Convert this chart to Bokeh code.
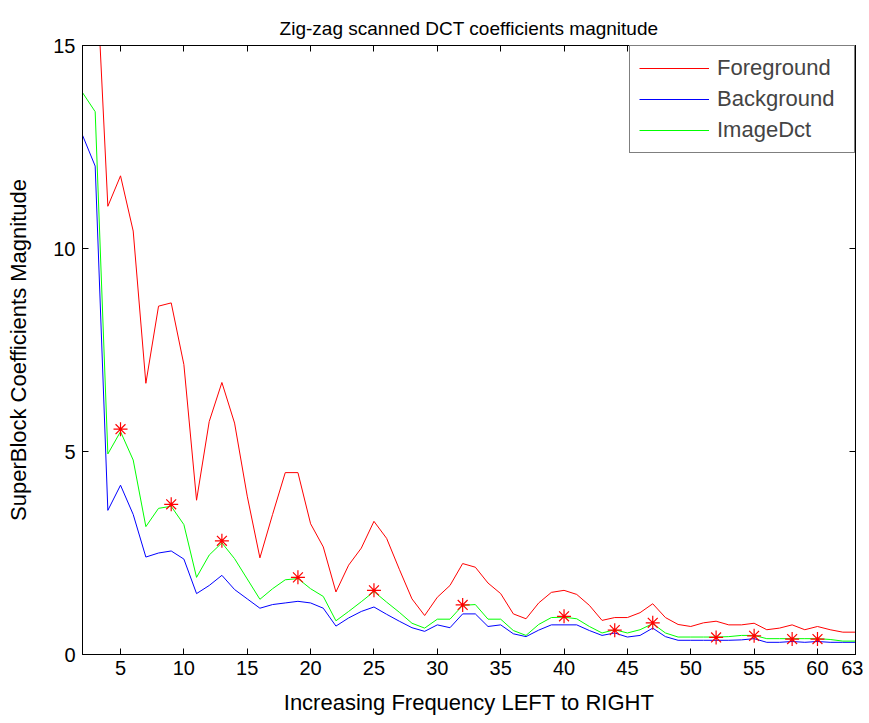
from bokeh.plotting import figure
from bokeh.models import LinearAxis, FixedTicker, Range1d, Legend, LegendItem, ColumnDataSource
from bokeh.embed import file_html
from bokeh.resources import INLINE

# zig-zag index (DC excluded)
freq = list(range(2, 64))

foreground = [18.5, 17.5, 11.04, 11.79, 10.43, 6.68, 8.58, 8.66, 7.14, 3.8,
              5.74, 6.70, 5.70, 3.9, 2.38, 3.45, 4.48, 4.48, 3.22, 2.65,
              1.54, 2.2, 2.62, 3.28, 2.86, 2.1, 1.37, 0.96, 1.41, 1.7,
              2.24, 2.15, 1.76, 1.5, 1.0, 0.88, 1.27, 1.53, 1.58, 1.48,
              1.21, 0.84, 0.91, 0.91, 1.03, 1.25, 0.91, 0.74, 0.69, 0.78,
              0.82, 0.73, 0.73, 0.77, 0.61, 0.65, 0.73, 0.61, 0.69, 0.61,
              0.55, 0.55]

background = [12.79, 12.03, 3.55, 4.17, 3.45, 2.4, 2.5, 2.55, 2.35, 1.5,
              1.7, 1.95, 1.6, 1.37, 1.14, 1.23, 1.27, 1.31, 1.27, 1.14,
              0.70, 0.9, 1.06, 1.17, 0.99, 0.82, 0.66, 0.57, 0.73, 0.66,
              1.0, 1.0, 0.69, 0.73, 0.51, 0.44, 0.6, 0.73, 0.73, 0.73,
              0.59, 0.47, 0.53, 0.43, 0.47, 0.65, 0.44, 0.35, 0.35, 0.35,
              0.35, 0.35, 0.36, 0.39, 0.30, 0.30, 0.32, 0.30, 0.32, 0.30,
              0.30, 0.30]

image_dct = [13.84, 13.37, 4.94, 5.49, 4.79, 3.15, 3.6, 3.65, 3.2, 1.9,
             2.45, 2.75, 2.36, 1.86, 1.36, 1.62, 1.84, 1.87, 1.62, 1.43,
             0.83, 1.06, 1.3, 1.55, 1.29, 1.04, 0.77, 0.65, 0.87, 0.87,
             1.21, 1.23, 0.87, 0.87, 0.59, 0.47, 0.74, 0.91, 0.92, 0.88,
             0.69, 0.53, 0.61, 0.53, 0.61, 0.76, 0.53, 0.43, 0.43, 0.43,
             0.43, 0.44, 0.47, 0.47, 0.39, 0.39, 0.39, 0.39, 0.39, 0.37,
             0.33, 0.33]

star_freq = [5, 9, 13, 19, 25, 32, 40, 44, 47, 52, 55, 58, 60]
star_vals = [5.55, 3.7, 2.8, 1.9, 1.58, 1.22, 0.94, 0.6, 0.78, 0.42, 0.46, 0.38, 0.38]

x_ticks = [5, 10, 15, 20, 25, 30, 35, 40, 45, 50, 55, 60, 63]
y_ticks = [0, 5, 10, 15]

FONT = "Liberation Sans"

p = figure(frame_width=773, frame_height=609,
           x_range=Range1d(2, 63), y_range=Range1d(0, 15),
           output_backend="svg", toolbar_location=None,
           min_border_left=82, min_border_right=8,
           min_border_top=45, min_border_bottom=60,
           background_fill_color="white", border_fill_color="white")

p.title.text = "Zig-zag scanned DCT coefficients magnitude"
p.title.align = "center"
p.title.vertical_align = "top"
p.title.text_font = FONT
p.title.text_font_size = "19px"
p.title.text_font_style = "normal"
p.title.text_color = "black"
p.title.standoff = 10

p.xgrid.visible = False
p.ygrid.visible = False
p.outline_line_color = "black"
p.outline_line_width = 1
p.outline_line_alpha = 1

for ax in (p.xaxis[0], p.yaxis[0]):
    ax.major_tick_in = 6
    ax.major_tick_out = 0
    ax.minor_tick_line_color = None
    ax.axis_line_color = "black"
    ax.major_tick_line_color = "black"
    ax.major_label_text_font = FONT
    ax.major_label_text_font_size = "20px"
    ax.major_label_text_color = "black"
    ax.axis_label_text_font = FONT
    ax.axis_label_text_font_size = "22px"
    ax.axis_label_text_font_style = "normal"
    ax.axis_label_text_color = "black"

p.xaxis[0].ticker = FixedTicker(ticks=x_ticks)
p.yaxis[0].ticker = FixedTicker(ticks=y_ticks)
p.xaxis[0].axis_label = "Increasing Frequency LEFT to RIGHT"
p.yaxis[0].axis_label = "SuperBlock Coefficients Magnitude"
p.xaxis[0].major_label_standoff = 6
p.yaxis[0].major_label_standoff = 7
p.xaxis[0].axis_label_standoff = 12
p.yaxis[0].axis_label_standoff = 19

# mirrored ticks (box on), no labels
top_ax = LinearAxis(ticker=FixedTicker(ticks=x_ticks),
                    major_label_overrides={t: "" for t in x_ticks},
                    major_tick_in=6, major_tick_out=0, minor_tick_line_color=None,
                    major_label_standoff=0, axis_line_color="black")
right_ax = LinearAxis(ticker=FixedTicker(ticks=y_ticks),
                      major_label_overrides={t: "" for t in y_ticks},
                      major_tick_in=6, major_tick_out=0, minor_tick_line_color=None,
                      major_label_standoff=0, axis_line_color="black")
p.add_layout(top_ax, "above")
p.add_layout(right_ax, "right")

src = ColumnDataSource(dict(x=freq, fg=foreground, bg=background, im=image_dct))
r_fg = p.line("x", "fg", source=src, line_color="#FF0000", line_width=1)
r_bg = p.line("x", "bg", source=src, line_color="#0000FF", line_width=1)
r_im = p.line("x", "im", source=src, line_color="#00FF00", line_width=1)

p.scatter(star_freq, star_vals, marker="asterisk", size=14, line_color="#FF0000", line_width=1.2)

legend = Legend(items=[LegendItem(label="Foreground", renderers=[r_fg]),
                       LegendItem(label="Background", renderers=[r_bg]),
                       LegendItem(label="ImageDct", renderers=[r_im])],
                location="top_right", margin=0, padding=9, spacing=5,
                glyph_width=70, label_standoff=8, label_width=128,
                label_text_font=FONT, label_text_font_size="22px",
                border_line_color="black", border_line_width=1,
                background_fill_color="white", background_fill_alpha=1)
p.add_layout(legend)

open("out.html", "w").write(file_html(p, INLINE))
